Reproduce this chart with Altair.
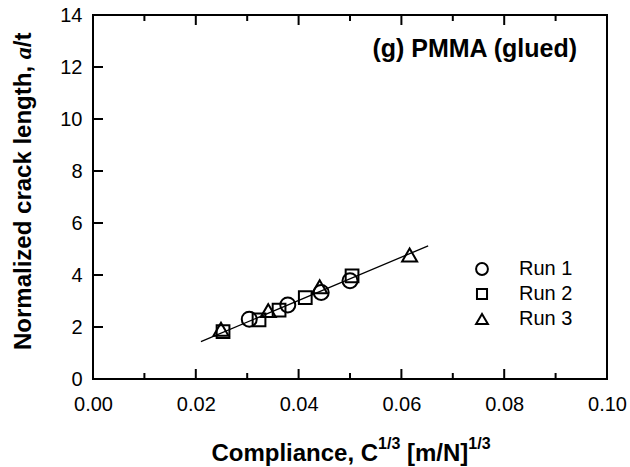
import altair as alt
import pandas as pd

# ---- data ----
run1_x = [0.0304, 0.0379, 0.0444, 0.0500]
run1_y = [2.30, 2.85, 3.33, 3.78]
run2_x = [0.0253, 0.0323, 0.0362, 0.0413, 0.0504]
run2_y = [1.82, 2.27, 2.65, 3.13, 3.97]
run3_x = [0.0249, 0.0341, 0.0441, 0.0616]
run3_y = [1.91, 2.63, 3.55, 4.77]
runs = ["Run 1", "Run 2", "Run 3"]
fit_x = [0.021, 0.0652]
fit_y = [1.44, 5.12]

x_major = [0.00, 0.02, 0.04, 0.06, 0.08, 0.10]
x_minor = [0.01, 0.03, 0.05, 0.07, 0.09]
y_major = [0, 2, 4, 6, 8, 10, 12, 14]
y_inner = [2, 4, 6, 8, 10, 12]

title_text = "(g) PMMA (glued)"

# ---- layout ----
W, H = 514, 364
PL, PT = 93, 15
FONT = "Liberation Sans"
MAJ, MIN = 10, 6
SQUARE = "M-0.85,-0.85H0.85V0.85H-0.85Z"

pts = pd.DataFrame({
    "x": run1_x + run2_x + run3_x,
    "y": run1_y + run2_y + run3_y,
    "run": ["Run 1"] * len(run1_x) + ["Run 2"] * len(run2_x) + ["Run 3"] * len(run3_x),
})
fit = pd.DataFrame({"x": fit_x, "y": fit_y})

xs = alt.Scale(domain=[0, 0.1], nice=False, zero=False)
ys = alt.Scale(domain=[0, 14], nice=False, zero=False)
xaxis = alt.Axis(values=x_major, format=".2f", title=None, labelFontSize=20, labelFont=FONT,
                 labelColor="black", labelPadding=15, ticks=False, domain=False, grid=False,
                 labelFlush=False, labelOverlap=False)
yaxis = alt.Axis(values=y_major, format="d", title=None, labelFontSize=20, labelFont=FONT,
                 labelColor="black", labelPadding=11, ticks=False, domain=False, grid=False,
                 labelFlush=False, labelOverlap=False)

points = alt.Chart(pts).mark_point(filled=False, stroke="black", color="black",
                                   strokeWidth=2, opacity=1, size=225).encode(
    x=alt.X("x:Q", scale=xs, axis=xaxis),
    y=alt.Y("y:Q", scale=ys, axis=yaxis),
    shape=alt.Shape("run:N", scale=alt.Scale(domain=runs, range=["circle", SQUARE, "triangle-up"]),
                    legend=alt.Legend(orient="none", legendX=379, legendY=244, title=None,
                                      labelFontSize=20, labelFont=FONT, labelColor="black",
                                      symbolSize=140, symbolStrokeWidth=2, symbolStrokeColor="black",
                                      symbolFillColor="transparent", rowPadding=5, labelOffset=27,
                                      padding=0)),
)

line = alt.Chart(fit).mark_line(color="black", strokeWidth=1.3).encode(
    x=alt.X("x:Q", scale=xs, axis=xaxis), y=alt.Y("y:Q", scale=ys, axis=yaxis))

def xticks(vals, length, top):
    df = pd.DataFrame({"x": vals})
    if top:
        y1, y2 = 0, length
    else:
        y1, y2 = H, H - length
    return alt.Chart(df).mark_rule(color="black", strokeWidth=2).encode(
        x=alt.X("x:Q", scale=xs, axis=xaxis), y=alt.value(y1), y2=alt.value(y2))

yt = alt.Chart(pd.DataFrame({"y": y_inner})).mark_rule(color="black", strokeWidth=2).encode(
    y=alt.Y("y:Q", scale=ys, axis=yaxis), x=alt.value(0), x2=alt.value(MAJ))

def txt(s, x, y, size, weight="bold", align="left", angle=0, font=FONT, style="normal"):
    return alt.Chart(pd.DataFrame({"t": [s]})).mark_text(
        align=align, baseline="alphabetic", fontSize=size, fontWeight=weight, font=font,
        fontStyle=style, angle=angle, color="black").encode(
        text="t:N", x=alt.value(x), y=alt.value(y))

# x title pieces (Arial-bold metrics)
xb = 211.4 - PL
base = 461 - PT
sup = 449 - PT
w1 = 6.946 * 24
w2 = 1.39 * 16
sp = 0.278 * 24
w3 = 2.555 * 24
xtitle = [
    txt("Compliance, C", xb, base, 24),
    txt("1/3", xb + w1, sup, 16),
    txt("[m/N]", xb + w1 + w2 + sp, base, 24),
    txt("1/3", xb + w1 + w2 + sp + w3, sup, 16),
]

# y title pieces (rotated)
yx = 31 - PL
ystart = 350 - PT
ysplit = ystart - 12.115 * 24
ytitle = [
    txt("Normalized crack length,", yx, ystart, 24, angle=270),
    txt("a", yx, ysplit, 24, angle=270, font="Liberation Serif", style="italic"),
    txt("/t", yx, ysplit - 12, 24, angle=270),
]

ptitle = txt(title_text, 577 - PL, 56.7 - PT, 25, align="right")

chart = alt.layer(
    points, line,
    xticks(x_major, MAJ, False), xticks(x_minor, MIN, False),
    xticks(x_major, MAJ, True), xticks(x_minor, MIN, True),
    yt, ptitle, *xtitle, *ytitle,
).properties(
    width=W, height=H,
    autosize=alt.AutoSizeParams(type="none"),
    padding={"left": PL, "top": PT, "right": 630 - PL - W, "bottom": 467 - PT - H},
    background="white",
).configure_view(stroke="black", strokeWidth=2)

chart.save("out.html", embed_options={"renderer": "svg", "actions": False})
